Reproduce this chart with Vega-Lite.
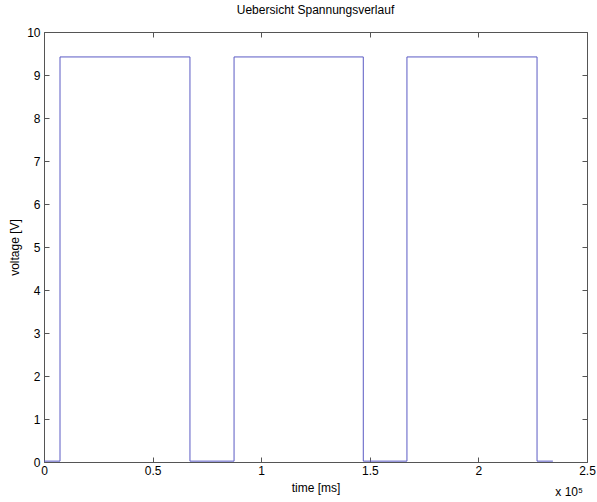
{
  "$schema": "https://vega.github.io/schema/vega-lite/v6.json",
  "width": 543,
  "height": 430,
  "autosize": {"type": "none"},
  "padding": {"left": 44, "top": 32, "right": 10, "bottom": 40},
  "background": "white",
  "config": {
    "view": {"stroke": null},
    "font": "Liberation Sans",
    "axis": {
      "grid": false,
      "domainColor": "#555555",
      "tickColor": "#555555",
      "tickSize": -5,
      "labelFont": "Liberation Sans",
      "labelFontSize": 12,
      "labelColor": "#000000",
      "titleFont": "Liberation Sans",
      "titleFontSize": 12,
      "titleFontWeight": "normal",
      "titleColor": "#000000"
    }
  },
  "title": {
    "text": "Uebersicht Spannungsverlauf",
    "font": "Liberation Sans",
    "fontSize": 12,
    "fontWeight": "normal",
    "color": "#000000",
    "offset": 9
  },
  "data": {
    "values": [
      {"i": 0, "t": 0, "v": 0.02},
      {"i": 1, "t": 7370, "v": 0.02},
      {"i": 2, "t": 7370, "v": 9.42},
      {"i": 3, "t": 67200, "v": 9.42},
      {"i": 4, "t": 67200, "v": 0.02},
      {"i": 5, "t": 87500, "v": 0.02},
      {"i": 6, "t": 87500, "v": 9.42},
      {"i": 7, "t": 147000, "v": 9.42},
      {"i": 8, "t": 147000, "v": 0.02},
      {"i": 9, "t": 167100, "v": 0.02},
      {"i": 10, "t": 167100, "v": 9.42},
      {"i": 11, "t": 227000, "v": 9.42},
      {"i": 12, "t": 227000, "v": 0.02},
      {"i": 13, "t": 234300, "v": 0.02}
    ]
  },
  "resolve": {"axis": {"x": "independent", "y": "independent"}},
  "layer": [
    {
      "mark": {"type": "line", "color": "#5a5ac4", "strokeWidth": 1, "clip": true},
      "encoding": {
        "x": {
          "field": "t", "type": "quantitative",
          "scale": {"domain": [0, 250000], "nice": false, "zero": false},
          "axis": {
            "orient": "bottom",
            "values": [0, 50000, 100000, 150000, 200000, 250000],
            "labelExpr": "datum.value / 100000",
            "labelPadding": 8,
            "labelFlush": false,
            "title": "time [ms]",
            "titlePadding": 6
          }
        },
        "y": {
          "field": "v", "type": "quantitative",
          "scale": {"domain": [0, 10], "nice": false, "zero": false},
          "axis": {
            "orient": "left",
            "values": [0, 1, 2, 3, 4, 5, 6, 7, 8, 9, 10],
            "labelPadding": 9,
            "labelFlush": false,
            "title": "voltage [V]",
            "titlePadding": 5
          }
        },
        "order": {"field": "i", "type": "quantitative"}
      }
    },
    {
      "mark": {"type": "line", "color": "#5a5ac4", "strokeWidth": 1, "opacity": 0},
      "encoding": {
        "x": {
          "field": "t", "type": "quantitative",
          "axis": {
            "orient": "top",
            "values": [0, 50000, 100000, 150000, 200000, 250000],
            "labels": false,
            "title": null
          }
        },
        "y": {
          "field": "v", "type": "quantitative",
          "axis": {
            "orient": "right",
            "values": [0, 1, 2, 3, 4, 5, 6, 7, 8, 9, 10],
            "labels": false,
            "title": null
          }
        },
        "order": {"field": "i", "type": "quantitative"}
      }
    },
    {
      "data": {"values": [{"t": 250000, "v": 0, "label": "x 10⁵"}]},
      "mark": {"type": "text", "align": "right", "baseline": "middle", "dx": -4, "dy": 30, "fontSize": 12, "font": "Liberation Sans", "color": "#000000"},
      "encoding": {
        "x": {"field": "t", "type": "quantitative", "axis": null},
        "y": {"field": "v", "type": "quantitative", "axis": null},
        "text": {"field": "label", "type": "nominal"}
      }
    }
  ]
}
